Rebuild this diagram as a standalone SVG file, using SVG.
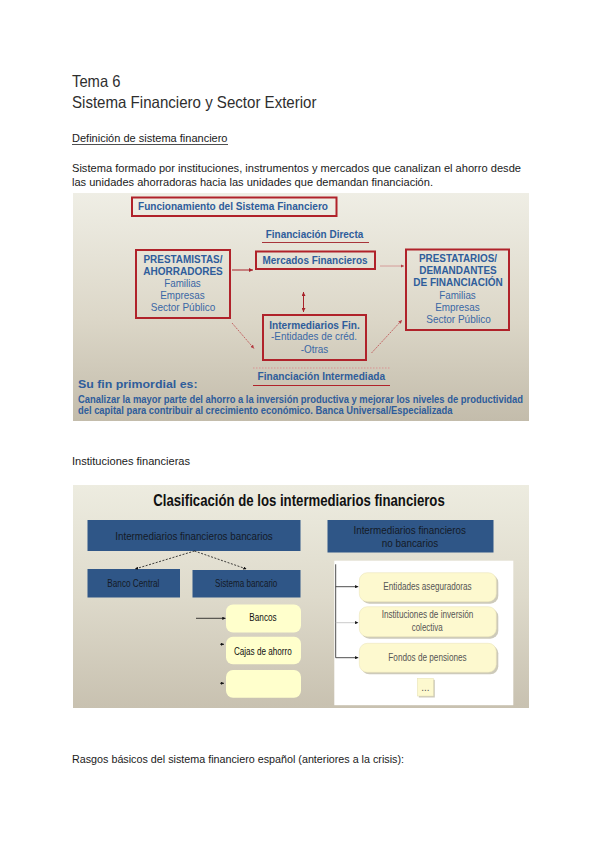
<svg xmlns="http://www.w3.org/2000/svg" width="600" height="848" viewBox="0 0 600 848">
<defs>
<linearGradient id="bg1" x1="0" y1="0" x2="0" y2="1">
<stop offset="0" stop-color="#efeee5"/>
<stop offset="0.55" stop-color="#dcd7c8"/>
<stop offset="1" stop-color="#c3bcab"/>
</linearGradient>
<linearGradient id="bg2" x1="0" y1="0" x2="0" y2="1">
<stop offset="0" stop-color="#edece0"/>
<stop offset="0.5" stop-color="#dedacb"/>
<stop offset="1" stop-color="#c8c1b0"/>
</linearGradient>
<marker id="ar" viewBox="0 0 6 6" refX="6" refY="3" markerWidth="4" markerHeight="4" orient="auto-start-reverse"><path d="M0,0 L6,3 L0,6 z" fill="#a8222a"/></marker>
<marker id="arl" viewBox="0 0 6 6" refX="6" refY="3" markerWidth="4" markerHeight="4" orient="auto"><path d="M0,0 L6,3 L0,6 z" fill="#b43a40"/></marker>
<marker id="ak" viewBox="0 0 6 6" refX="6" refY="3" markerWidth="4" markerHeight="4" orient="auto"><path d="M0,0 L6,3 L0,6 z" fill="#111"/></marker>
</defs>
<style>
.pg{font-family:"Liberation Sans",Arial,sans-serif;fill:#1a1a1a}
.tt{font-family:"Liberation Sans",Arial,sans-serif;fill:#2e2e2e;font-size:16.5px}
.b1{font-family:"Liberation Sans",Arial,sans-serif;font-weight:bold;fill:#2f5d9b;font-size:10.5px}
.n1{font-family:"Liberation Sans",Arial,sans-serif;fill:#3a67a5;font-size:10.5px}
.rb{fill:none;stroke:#b0222a;stroke-width:2}
.bb{fill:#2f5687}
.bt{font-family:"Liberation Sans",Arial,sans-serif;fill:#141a26;font-size:10.5px}
.yb{fill:#ffffcc}
.yr{fill:#fdf9cf;stroke:#e6e0b4;stroke-width:0.5}
.sh{fill:#b8b49c;opacity:0.7}
.gt{font-family:"Liberation Sans",Arial,sans-serif;fill:#555;font-size:10px}
.kt{font-family:"Liberation Sans",Arial,sans-serif;fill:#111;font-size:10px}
</style>
<rect width="600" height="848" fill="#fff"/>

<g id="page-text">
<text class="tt" x="72" y="87" textLength="48.5" lengthAdjust="spacingAndGlyphs">Tema 6</text>
<text class="tt" x="72" y="107.5" textLength="244.5" lengthAdjust="spacingAndGlyphs">Sistema Financiero y Sector Exterior</text>
<text class="pg" x="72" y="142" font-size="11.5" textLength="155.5" lengthAdjust="spacingAndGlyphs">Definición de sistema financiero</text>
<line x1="72" y1="144.5" x2="228" y2="144.5" stroke="#222" stroke-width="0.8"/>
<text class="pg" x="72" y="171.5" font-size="11.5" textLength="449" lengthAdjust="spacingAndGlyphs">Sistema formado por instituciones, instrumentos y mercados que canalizan el ahorro desde</text>
<text class="pg" x="72" y="185.5" font-size="11.5" textLength="361" lengthAdjust="spacingAndGlyphs">las unidades ahorradoras hacia las unidades que demandan financiación.</text>
<text class="pg" x="72" y="465" font-size="11.5" textLength="118" lengthAdjust="spacingAndGlyphs">Instituciones financieras</text>
<text class="pg" x="72" y="763" font-size="11.5" textLength="332" lengthAdjust="spacingAndGlyphs">Rasgos básicos del sistema financiero español (anteriores a la crisis):</text>
</g>

<g id="diagram1">
<rect x="73" y="193" width="456" height="228" fill="url(#bg1)"/>
<g id="d1-title">
<rect class="rb" x="132" y="197.5" width="204.5" height="18.5"/>
<text class="b1" x="233" y="210" text-anchor="middle" textLength="190" lengthAdjust="spacingAndGlyphs">Funcionamiento del Sistema Financiero</text>
</g>
<g id="d1-directa">
<text class="b1" x="314.5" y="238" text-anchor="middle" textLength="97.5" lengthAdjust="spacingAndGlyphs">Financiación Directa</text>
<line x1="262" y1="242.5" x2="369" y2="242.5" stroke="#a8343a" stroke-width="1"/>
</g>
<g id="d1-mercados">
<rect class="rb" x="256" y="251.5" width="119" height="17.5"/>
<text class="b1" x="315" y="263.5" text-anchor="middle" textLength="105" lengthAdjust="spacingAndGlyphs">Mercados Financieros</text>
</g>
<g id="d1-prestamistas">
<rect class="rb" x="136" y="250" width="94" height="68"/>
<text class="b1" x="183" y="263" text-anchor="middle" font-size="11" textLength="79" lengthAdjust="spacingAndGlyphs">PRESTAMISTAS/</text>
<text class="b1" x="183" y="274.5" text-anchor="middle" font-size="11" textLength="79.5" lengthAdjust="spacingAndGlyphs">AHORRADORES</text>
<text class="n1" x="182.5" y="286.5" text-anchor="middle" textLength="36.5" lengthAdjust="spacingAndGlyphs">Familias</text>
<text class="n1" x="182.5" y="299" text-anchor="middle" textLength="44.5" lengthAdjust="spacingAndGlyphs">Empresas</text>
<text class="n1" x="183" y="310.5" text-anchor="middle" textLength="64.5" lengthAdjust="spacingAndGlyphs">Sector Público</text>
</g>
<g id="d1-prestatarios">
<rect class="rb" x="406" y="249.5" width="103" height="80.5"/>
<text class="b1" x="458" y="261.5" text-anchor="middle" font-size="11" textLength="78" lengthAdjust="spacingAndGlyphs">PRESTATARIOS/</text>
<text class="b1" x="458" y="274" text-anchor="middle" font-size="11" textLength="77.5" lengthAdjust="spacingAndGlyphs">DEMANDANTES</text>
<text class="b1" x="458" y="286" text-anchor="middle" font-size="11" textLength="89.5" lengthAdjust="spacingAndGlyphs">DE FINANCIACIÓN</text>
<text class="n1" x="457.5" y="298.5" text-anchor="middle" textLength="36.5" lengthAdjust="spacingAndGlyphs">Familias</text>
<text class="n1" x="457.5" y="310.5" text-anchor="middle" textLength="44.5" lengthAdjust="spacingAndGlyphs">Empresas</text>
<text class="n1" x="458.5" y="322.5" text-anchor="middle" textLength="64.5" lengthAdjust="spacingAndGlyphs">Sector Público</text>
</g>
<g id="d1-intermediarios">
<rect class="rb" x="263" y="315" width="103" height="45"/>
<text class="b1" x="314.5" y="328.5" text-anchor="middle" textLength="90.5" lengthAdjust="spacingAndGlyphs">Intermediarios Fin.</text>
<text class="n1" x="314" y="340" text-anchor="middle" textLength="86" lengthAdjust="spacingAndGlyphs">-Entidades de créd.</text>
<text class="n1" x="314.5" y="352.5" text-anchor="middle" textLength="27.5" lengthAdjust="spacingAndGlyphs">-Otras</text>
</g>
<g id="d1-intermediada">
<line x1="253" y1="368" x2="390" y2="368" stroke="#d99393" stroke-width="1" stroke-dasharray="1.5,1.5"/>
<text class="b1" x="321.3" y="380" text-anchor="middle" textLength="127.5" lengthAdjust="spacingAndGlyphs">Financiación Intermediada</text>
<line x1="253" y1="385.5" x2="390" y2="385.5" stroke="#b0222a" stroke-width="1.2"/>
</g>
<g id="d1-fin">
<text class="b1" x="78" y="388" font-size="18.5" textLength="119.5" lengthAdjust="spacingAndGlyphs">Su fin primordial es:</text>
<text class="b1" x="78" y="402.5" font-size="9.8" textLength="445" lengthAdjust="spacingAndGlyphs">Canalizar la mayor parte del ahorro a la inversión productiva y mejorar los niveles de productividad</text>
<text class="b1" x="78" y="413.5" font-size="9.8" textLength="374.5" lengthAdjust="spacingAndGlyphs">del capital para contribuir al crecimiento económico. Banca Universal/Especializada</text>
</g>
<g id="d1-connectors">
<line x1="232" y1="270" x2="253" y2="270" stroke="#a8222a" stroke-width="1" marker-end="url(#ar)"/>
<line x1="380" y1="266" x2="404" y2="266" stroke="#d08a8a" stroke-width="0.8" marker-end="url(#arl)"/>
<line x1="303.5" y1="292" x2="303.5" y2="312" stroke="#a8222a" stroke-width="1" marker-start="url(#ar)" marker-end="url(#ar)"/>
<line x1="232" y1="323" x2="254" y2="348.5" stroke="#c05a5a" stroke-width="0.9" stroke-dasharray="2,1" marker-end="url(#arl)"/>
<line x1="371.5" y1="353" x2="402" y2="320" stroke="#c05a5a" stroke-width="0.9" stroke-dasharray="2,1" marker-end="url(#arl)"/>
</g>
</g>

<g id="diagram2">
<rect x="73" y="485" width="456" height="223" fill="url(#bg2)"/>
<text x="299" y="506" text-anchor="middle" font-family="'Liberation Sans',Arial,sans-serif" font-weight="bold" font-size="16.3" fill="#111" textLength="291.5" lengthAdjust="spacingAndGlyphs">Clasificación de los intermediarios financieros</text>
<g id="n-bancarios">
<rect class="bb" x="87.5" y="520" width="213" height="31"/>
<text class="bt" x="194" y="539.5" text-anchor="middle" textLength="157.5" lengthAdjust="spacingAndGlyphs">Intermediarios financieros bancarios</text>
</g>
<g id="n-nobancarios">
<rect class="bb" x="327.5" y="520" width="166" height="32.5"/>
<text class="bt" x="409.7" y="533.5" text-anchor="middle" textLength="112.5" lengthAdjust="spacingAndGlyphs">Intermediarios financieros</text>
<text class="bt" x="410" y="546.5" text-anchor="middle" textLength="56.5" lengthAdjust="spacingAndGlyphs">no bancarios</text>
</g>
<g id="n-bancocentral">
<rect class="bb" x="87.5" y="569" width="92.5" height="28.5"/>
<text class="bt" x="133.3" y="586.5" text-anchor="middle" font-size="10" textLength="52" lengthAdjust="spacingAndGlyphs">Banco Central</text>
</g>
<g id="n-sistemabancario">
<rect class="bb" x="192.5" y="570" width="108" height="27.5"/>
<text class="bt" x="246.2" y="586.5" text-anchor="middle" font-size="10" textLength="62.3" lengthAdjust="spacingAndGlyphs">Sistema bancario</text>
</g>
<g id="n-bancos">
<rect class="yb" x="226" y="604.5" width="75" height="28" rx="7"/>
<text class="kt" x="263" y="621" text-anchor="middle" textLength="27.3" lengthAdjust="spacingAndGlyphs">Bancos</text>
</g>
<g id="n-cajas">
<rect class="yb" x="226" y="636.7" width="75" height="27.6" rx="7"/>
<text class="kt" x="262.8" y="654.7" text-anchor="middle" textLength="57.7" lengthAdjust="spacingAndGlyphs">Cajas de ahorro</text>
</g>
<g id="n-otro">
<rect class="yb" x="226" y="670" width="75" height="27.7" rx="7"/>
</g>
<g id="n-panel">
<rect x="334.3" y="560.7" width="179" height="144.5" fill="#fff"/>
</g>
<g id="n-aseguradoras">
<rect class="sh" x="361.3" y="574.7" width="137" height="29" rx="8"/>
<rect class="yr" x="359.3" y="572.7" width="137" height="29" rx="8"/>
<text class="gt" x="427.5" y="590" text-anchor="middle" textLength="88.3" lengthAdjust="spacingAndGlyphs">Entidades aseguradoras</text>
</g>
<g id="n-iic">
<rect class="sh" x="361.3" y="608.7" width="137" height="30" rx="8"/>
<rect class="yr" x="359.3" y="606.7" width="137" height="30" rx="8"/>
<text class="gt" x="427.5" y="618" text-anchor="middle" textLength="91.7" lengthAdjust="spacingAndGlyphs">Instituciones de inversión</text>
<text class="gt" x="427.2" y="630.5" text-anchor="middle" textLength="31" lengthAdjust="spacingAndGlyphs">colectiva</text>
</g>
<g id="n-fondos">
<rect class="sh" x="361.3" y="645.3" width="137" height="29" rx="8"/>
<rect class="yr" x="359.3" y="643.3" width="137" height="29" rx="8"/>
<text class="gt" x="427.5" y="661" text-anchor="middle" textLength="78.3" lengthAdjust="spacingAndGlyphs">Fondos de pensiones</text>
</g>
<g id="n-etc">
<rect class="sh" x="418.8" y="679.8" width="16" height="17.7"/>
<rect class="yr" x="417.3" y="678.3" width="16" height="17.7"/>
<text class="gt" x="425.3" y="691" text-anchor="middle" font-size="8">...</text>
</g>
<g id="d2-connectors">
<line x1="194.5" y1="551" x2="135" y2="569" stroke="#111" stroke-width="0.8" stroke-dasharray="2,1.5" marker-end="url(#ak)"/>
<line x1="194.5" y1="551" x2="246.5" y2="569" stroke="#111" stroke-width="0.8" stroke-dasharray="2,1.5" marker-end="url(#ak)"/>
<line x1="196" y1="618.3" x2="225.5" y2="618.3" stroke="#111" stroke-width="0.8" marker-end="url(#ak)"/>
<line x1="220" y1="644.3" x2="224" y2="644.3" stroke="#111" stroke-width="0.8" marker-end="url(#ak)"/>
<line x1="220" y1="683.3" x2="224" y2="683.3" stroke="#111" stroke-width="0.8" marker-end="url(#ak)"/>
<line x1="335.7" y1="564.3" x2="335.7" y2="657.7" stroke="#222" stroke-width="0.8"/>
<line x1="335.7" y1="586.7" x2="358.3" y2="586.7" stroke="#222" stroke-width="0.8" marker-end="url(#ak)"/>
<line x1="335.7" y1="622.7" x2="358.3" y2="622.7" stroke="#bbb" stroke-width="0.8" marker-end="url(#ak)"/>
<line x1="335.7" y1="657.7" x2="358.3" y2="657.7" stroke="#222" stroke-width="0.8" marker-end="url(#ak)"/>
</g>
</g>
</svg>
